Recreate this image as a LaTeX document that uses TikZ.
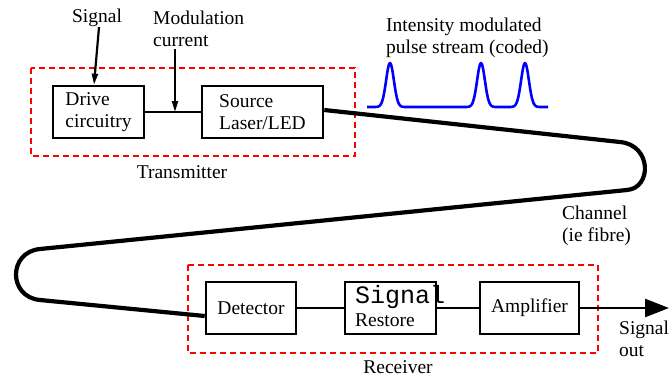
\documentclass[tikz,border=0pt]{standalone}
\usepackage{fontspec}
\setmainfont{Liberation Serif}
\setmonofont{Liberation Mono}
\usetikzlibrary{arrows.meta}
\begin{document}
\begin{tikzpicture}[x=1pt,y=-1pt,
  every node/.style={font=\fontsize{19.5}{22}\selectfont},
  blockbox/.style={draw,line width=2.6pt,inner sep=0pt,minimum height=52pt},
  wire/.style={line width=2.5pt},
  fibre/.style={line width=4.2pt},
  groupbox/.style={draw=red,line width=1.8pt,dash pattern=on 6pt off 4pt},
  label/.style={inner sep=0pt,align=left},
  thinarrow/.style={line width=2.2pt,-{Triangle[length=11pt,width=6pt]}},
  bigarrow/.style={line width=2.5pt,-{Triangle[length=24pt,width=18pt]}}]
\useasboundingbox (0,0) rectangle (669,376);
% group boxes
\draw[groupbox] (31,68) rectangle (355,156);
\draw[groupbox] (188,265) rectangle (598,353);
% transmitter blocks
\node[blockbox,minimum width=91pt,align=left] (drv) at (98.5,112) {Drive\\circuitry};
\node[blockbox,minimum width=121pt,align=left] (src) at (262.5,112) {Source\\Laser/LED};
\coordinate (mid) at (175,112);
\draw[wire] (drv.east) -- (src.west);
% labels top
\node[label] (sig) at (97,18) {Signal};
\node[label,anchor=west] (mod) at (153,28.5) {Modulation\\current};
\coordinate (modtop) at (175,49);
\draw[thinarrow] ([xshift=2pt]sig.south) -- ([xshift=-4.5pt]drv.north);
\draw[thinarrow] (modtop) -- (mid);
\node[label] (tx) at (182,172) {Transmitter};
% pulses
\node[label,anchor=west] (ints) at (386,37.5) {Intensity modulated\\pulse stream (coded)};
\draw[blue,line width=2.6pt,line join=round]
  (367,107) -- (375,107)
  plot[domain=375:405,samples=40,smooth] (\x,{107-44*exp(-((\x-390)/5.5)^2)})
  -- (466,107)
  plot[domain=466:496,samples=40,smooth] (\x,{107-44*exp(-((\x-481)/5.5)^2)})
  -- (510,107)
  plot[domain=510:540,samples=40,smooth] (\x,{107-44*exp(-((\x-525)/5.5)^2)})
  -- (548,107);
% receiver blocks
\node[blockbox,minimum width=90pt] (det) at (251,308) {Detector};
\node[blockbox,minimum width=91pt] (sr) at (390.5,308) {};
\node[inner sep=0pt,anchor=base west,font=\ttfamily\fontsize{25}{25}\selectfont] (srt) at (355,303) {Signal};
\node[inner sep=0pt,anchor=base west] (srb) at (355,326) {Restore};
\node[blockbox,minimum width=99pt] (amp) at (529.5,308) {Amplifier};
\coordinate (out) at (669,308);
\draw[wire] (det.east) -- (sr.west);
\draw[wire] (sr.east) -- (amp.west);
\draw[bigarrow] (amp.east) -- (out);
\node[label,anchor=west] (sout) at (619,339) {Signal\\out};
\node[label] (rx) at (398,367) {Receiver};
\node[label,anchor=west] (chan) at (562,226) {Channel\\(ie fibre)};
% fibre
\draw[fibre,line join=round] ([yshift=2pt]src.east) -- (620,142)
  .. controls (652,145) and (652,188) .. (627,190)
  -- (40,249)
  .. controls (8,252) and (8,297) .. (40,300)
  -- ([yshift=-8pt]det.west);
\end{tikzpicture}
\end{document}
